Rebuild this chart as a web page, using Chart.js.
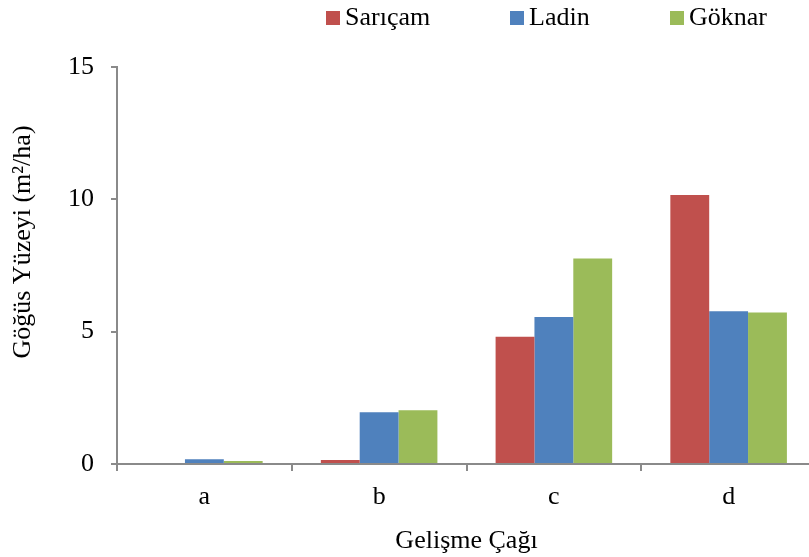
<!DOCTYPE html>
<html>
<head>
<meta charset="utf-8">
<script src="https://cdn.jsdelivr.net/npm/chart.js@4/dist/chart.umd.min.js"></script>
<style>
  html, body { margin: 0; padding: 0; background: #fff; overflow: hidden; }
  #wrap { position: absolute; left: 0; top: 0; width: 820px; height: 557px; }
</style>
</head>
<body>
<div id="wrap"><canvas id="c" width="820" height="557"></canvas></div>
<script>
// Göğüs yüzeyi (m²/ha) by development stage and species
const categories = ['a', 'b', 'c', 'd'];
const sarıcam = [0, 0.15, 4.81, 10.16];
const ladin   = [0.18, 1.96, 5.55, 5.77];
const goknar  = [0.11, 2.03, 7.76, 5.72];
const yTicks  = [0, 5, 10, 15];

const FONT = '"Liberation Serif", "Times New Roman", serif';
const AXIS = '#8a8a8a';

// Legend row drawn at the top right
const topLegend = {
  id: 'topLegend',
  afterDraw(chart) {
    const ctx = chart.ctx;
    const xs = [326, 510, 670];
    ctx.save();
    ctx.font = '26px ' + FONT;
    ctx.textBaseline = 'middle';
    ctx.textAlign = 'left';
    chart.data.datasets.forEach((ds, i) => {
      ctx.fillStyle = ds.backgroundColor;
      ctx.fillRect(xs[i], 11, 14, 14);
      ctx.fillStyle = '#000';
      ctx.fillText(ds.label, xs[i] + 19, 18);
    });
    ctx.restore();
  }
};

// Rotated y-axis title
const yTitle = {
  id: 'yTitle',
  afterDraw(chart) {
    const ctx = chart.ctx;
    ctx.save();
    ctx.translate(23, 242);
    ctx.rotate(-Math.PI / 2);
    ctx.font = '26px ' + FONT;
    ctx.fillStyle = '#000';
    ctx.textAlign = 'center';
    ctx.textBaseline = 'middle';
    ctx.fillText('Göğüs Yüzeyi (m²/ha)', 0, 0);
    ctx.restore();
  }
};

new Chart(document.getElementById('c'), {
  type: 'bar',
  data: {
    labels: categories,
    datasets: [
      { label: 'Sarıçam', data: sarıcam, backgroundColor: '#C0504D' },
      { label: 'Ladin',   data: ladin,   backgroundColor: '#4F81BD' },
      { label: 'Göknar',  data: goknar,  backgroundColor: '#9BBB59' }
    ]
  },
  options: {
    responsive: false,
    animation: false,
    devicePixelRatio: 1,
    layout: { padding: { left: 0, right: 4, top: 67, bottom: 0 } },
    datasets: { bar: { categoryPercentage: 0.667, barPercentage: 1.0 } },
    plugins: { legend: { display: false }, tooltip: { enabled: false } },
    scales: {
      x: {
        grid: { offset: true, drawOnChartArea: false, tickLength: 7, color: AXIS, lineWidth: 2 },
        border: { color: AXIS, width: 2 },
        ticks: { color: '#000', font: { family: FONT, size: 26 }, padding: 11 },
        title: { display: true, text: 'Gelişme Çağı', color: '#000', font: { family: FONT, size: 26 }, padding: { top: 4, bottom: 0 } },
        afterFit(s) { s.height = 93; }
      },
      y: {
        min: 0, max: 15,
        afterBuildTicks(s) { s.ticks = yTicks.map(v => ({ value: v })); },
        grid: { drawOnChartArea: false, tickLength: 6, color: AXIS, lineWidth: 2 },
        border: { color: AXIS, width: 2 },
        ticks: { color: '#000', font: { family: FONT, size: 26 }, padding: 17 },
        afterFit(s) { s.width = 117; }
      }
    }
  },
  plugins: [topLegend, yTitle]
});
</script>
</body>
</html>
